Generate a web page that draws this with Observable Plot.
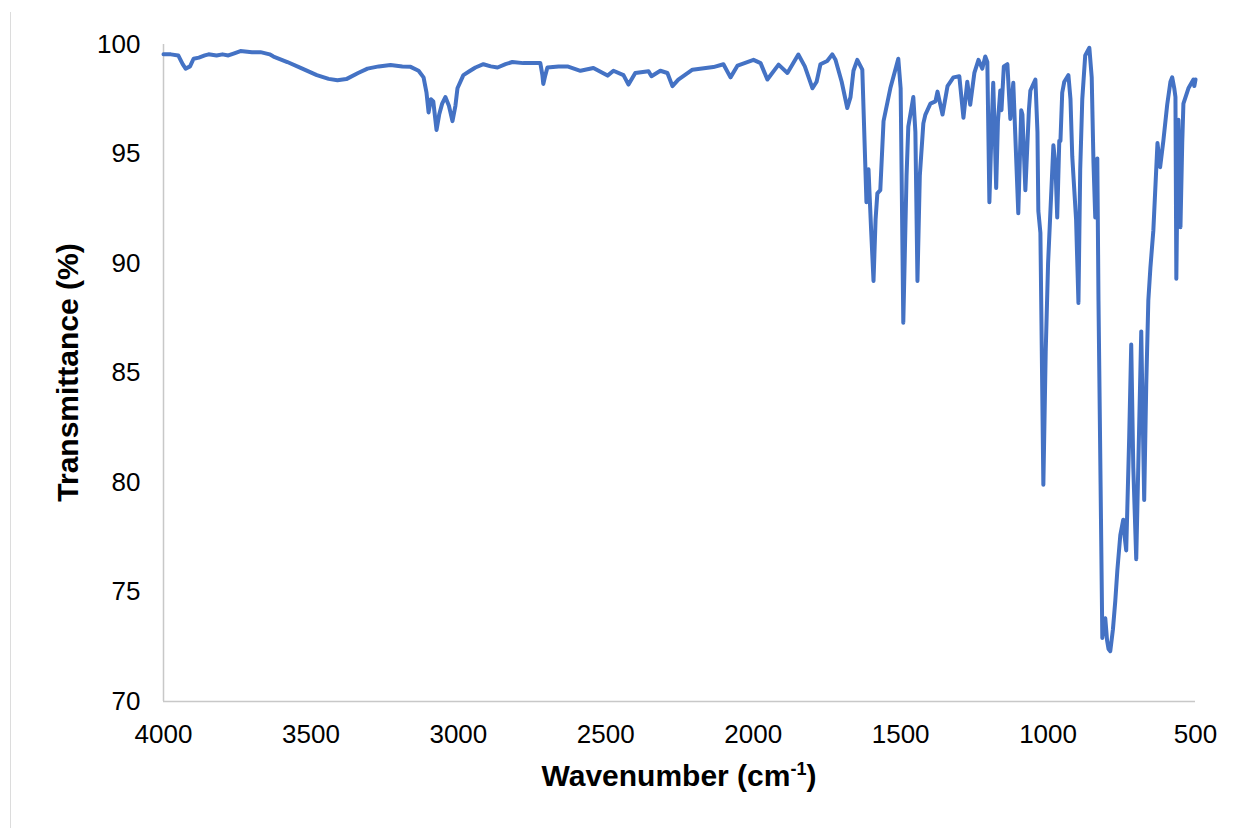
<!DOCTYPE html>
<html>
<head>
<meta charset="utf-8">
<script src="https://cdn.jsdelivr.net/npm/d3@7"></script>
<script src="https://cdn.jsdelivr.net/npm/@observablehq/plot@0.6"></script>
<style>
  html, body { margin: 0; padding: 0; background: #fff; }
  #wrap { position: relative; width: 1243px; height: 828px; overflow: hidden; }
  #frame { position: absolute; left: 10px; top: 12px; height: 816px; border-left: 1px solid #dcdcdc; }
</style>
</head>
<body>
<div id="wrap"><div id="frame"></div></div>
<script>
const wavenumber = [
  4000,3975,3950,3935,3925,3910,3898,3880,3860,3847,3820,3800,3780,3760,3739,3700,3671,3640,3627,3580,3535,3480,3440,3410,3380,3340,3308,3270,3230,3190,3162,3135,3118,3108,3101,3093,3085,3074,3065,3055,3044,3032,3020,3010,3003,2983,2960,2942,2915,2890,2867,2840,2817,2780,2750,2722,2715,2712,2705,2698,2660,2630,2586,2542,2494,2474,2440,2423,2400,2355,2345,2315,2291,2274,2254,2206,2135,2101,2077,2053,1999,1975,1952,1914,1884,1847,1825,1799,1785,1772,1749,1732,1721,1700,1681,1670,1660,1647,1630,1616,1609,1600,1592,1585,1579,1569,1558,1535,1515,1508,1500,1491,1480,1474,1457,1450,1443,1435,1423,1416,1399,1382,1375,1358,1341,1321,1301,1287,1274,1264,1250,1236,1223,1213,1206,1199,1192,1186,1181,1176,1170,1162,1158,1150,1138,1128,1118,1101,1091,1087,1077,1065,1060,1043,1036,1033,1026,1016,1008,1000,990,982,975,969,962,958,952,945,931,924,918,914,905,897,891,884,874,860,852,846,840,836,833,829,822,816,810,806,800,795,789,780,772,765,755,745,740,735,725,718,711,701,692,684,679,674,667,660,653,643,629,620,609,596,585,579,572,568,565,561,558,551,545,541,524,507,504,500
];
const transmittance = [
  99.55,99.55,99.5,99.1,98.9,99.0,99.35,99.4,99.5,99.55,99.5,99.55,99.5,99.6,99.7,99.65,99.65,99.55,99.45,99.2,98.93,98.6,98.43,98.37,98.42,98.7,98.9,99.0,99.06,99.0,98.98,98.8,98.5,97.8,96.9,97.5,97.4,96.1,96.8,97.3,97.6,97.2,96.5,97.2,98.0,98.6,98.8,98.95,99.1,99.0,98.95,99.1,99.2,99.15,99.15,99.15,98.6,98.2,98.6,98.95,99.0,99.0,98.8,98.93,98.58,98.8,98.6,98.17,98.7,98.78,98.55,98.8,98.7,98.1,98.4,98.85,98.97,99.1,98.5,99.04,99.3,99.15,98.4,99.08,98.7,99.54,99.0,98.0,98.3,99.1,99.25,99.55,99.3,98.3,97.1,97.6,98.8,99.3,98.85,92.8,94.3,91.5,89.2,92.0,93.2,93.35,96.5,98.0,99.0,99.35,98.0,87.3,94.0,96.25,97.6,96.0,89.2,94.0,96.4,96.8,97.3,97.4,97.85,96.8,98.1,98.5,98.55,96.65,98.3,97.25,98.7,99.3,98.9,99.45,99.2,92.8,96.0,98.25,96.0,93.45,96.5,97.9,97.0,99.0,99.1,96.6,98.25,92.3,97.0,96.8,93.35,97.0,97.9,98.4,96.0,92.4,91.4,79.9,86.0,90.0,93.0,95.4,94.5,92.1,95.6,95.6,97.8,98.3,98.6,97.5,94.9,94.0,92.0,88.2,94.3,97.5,99.5,99.85,98.5,94.6,92.1,94.0,94.8,88.3,80.0,72.9,73.6,73.8,72.8,72.4,72.3,73.3,74.6,76.0,77.6,78.3,77.5,76.9,82.0,86.3,80.7,76.5,82.0,86.9,83.0,79.2,84.5,88.3,89.8,91.5,95.5,94.4,95.6,97.25,98.3,98.5,98.0,97.6,89.3,94.0,96.56,91.66,95.5,97.3,98.0,98.4,98.1,98.4
];
const xTicks = [4000, 3500, 3000, 2500, 2000, 1500, 1000, 500];
const yTicks = [70, 75, 80, 85, 90, 95, 100];
const yTitle = "Transmittance (%)";
const xTitleMain = "Wavenumber (cm";
const xTitleSup = "-1";
const xTitleEnd = ")";

const data = wavenumber.map((w, i) => ({w, t: transmittance[i]}));

const W = 1243, H = 828;
const mL = 163, mR = 48, mT = 44, mB = 127;

const chart = Plot.plot({
  width: W,
  height: H,
  marginLeft: mL,
  marginRight: mR,
  marginTop: mT,
  marginBottom: mB,
  style: {fontFamily: "'Liberation Sans', Arial, Helvetica, sans-serif", fontSize: "26px", color: "#000", background: "#fff"},
  x: {domain: [4000, 500], ticks: xTicks, tickFormat: d => String(d), label: null},
  y: {domain: [70, 100], ticks: yTicks, label: null},
  marks: [
    Plot.axisX({ticks: xTicks, tickSize: 0, tickPadding: 23, tickFormat: d => String(d), label: null, fontSize: 26}),
    Plot.axisY({ticks: yTicks, tickSize: 0, tickPadding: 23, label: null, fontSize: 26}),
    Plot.ruleX([4000], {stroke: "#c8c8c8", strokeWidth: 1.5}),
    Plot.ruleY([70], {stroke: "#c8c8c8", strokeWidth: 1.5}),
    Plot.line(data, {x: "w", y: "t", stroke: "#4472C4", strokeWidth: 4, strokeLinejoin: "round", strokeLinecap: "round"})
  ]
});

const svg = d3.select(chart);
const fam = "'Liberation Sans', Arial, Helvetica, sans-serif";
svg.append("text")
  .attr("transform", `translate(67,${(mT + H - mB) / 2}) rotate(-90)`)
  .attr("text-anchor", "middle")
  .attr("dominant-baseline", "central")
  .attr("font-family", fam)
  .attr("font-weight", "bold")
  .attr("font-size", 30)
  .attr("fill", "#000")
  .text(yTitle);

const xt = svg.append("text")
  .attr("x", (mL + W - mR) / 2)
  .attr("y", 786)
  .attr("text-anchor", "middle")
  .attr("font-family", fam)
  .attr("font-weight", "bold")
  .attr("font-size", 30)
  .attr("fill", "#000");
xt.append("tspan").text(xTitleMain);
xt.append("tspan").attr("font-size", 18).attr("dy", -11).text(xTitleSup);
xt.append("tspan").attr("dy", 11).text(xTitleEnd);

document.getElementById("wrap").appendChild(chart);
</script>
</body>
</html>
